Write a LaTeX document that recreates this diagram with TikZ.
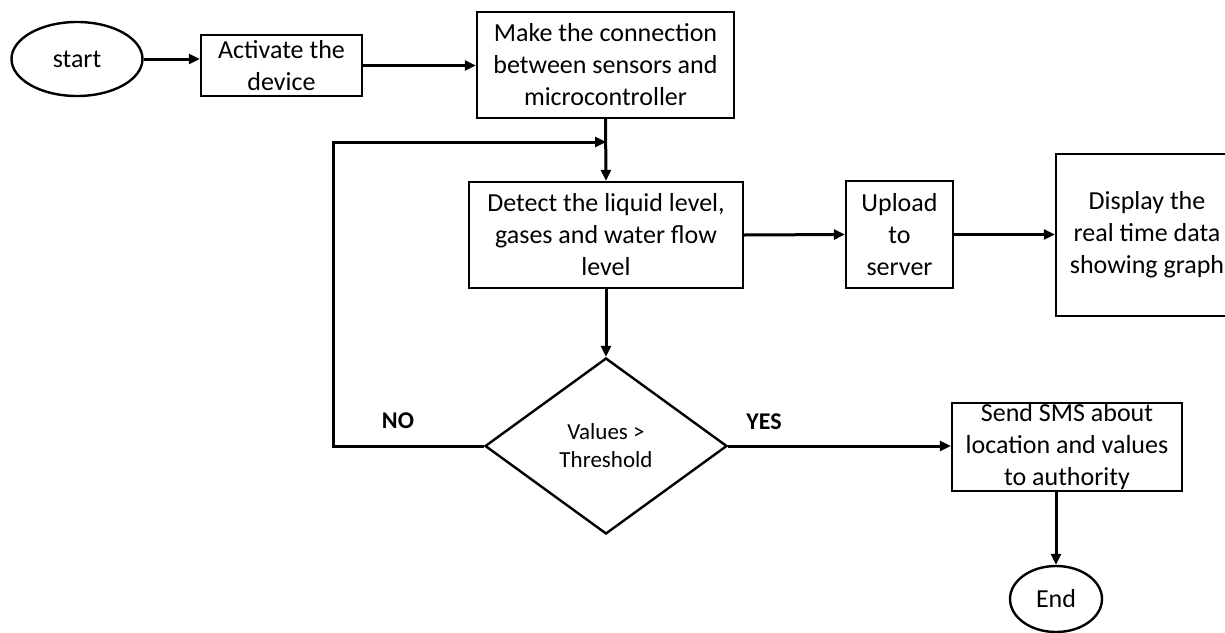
\documentclass[tikz,border=0pt]{standalone}
\usepackage{fontspec}
\setmainfont{Carlito}
\usetikzlibrary{shapes.geometric,arrows.meta}
\begin{document}
\begin{tikzpicture}[x=1pt,y=-1pt,
  line width=3pt,
  box/.style={draw,line width=2.4pt,rectangle,inner sep=0pt,align=center,
    font=\fontsize{26}{32}\selectfont},
  term/.style={draw,line width=2.4pt,ellipse,inner sep=0pt,
    font=\fontsize{26}{32}\selectfont},
  decision/.style={draw,line width=2.4pt,diamond,inner sep=0pt,align=center,
    font=\fontsize{23}{28}\selectfont},
  lbl/.style={font=\fontsize{24}{28}\selectfont\bfseries},
  arr/.style={-{Triangle[length=11pt,width=10pt]}}]
\clip (0,0) rectangle (1225,632);
\fill[white] (0,0) rectangle (1225,632);
\node[term,minimum width=131pt,minimum height=74pt] (start) at (77,59) {start};
\node[box,minimum width=161pt,minimum height=61pt] (act) at (281.5,65.5) {Activate the\\device};
\node[box,minimum width=257pt,minimum height=106pt] (make) at (605.5,65) {Make the connection\\between sensors and\\microcontroller};
\node[box,minimum width=274pt,minimum height=106pt] (detect) at (606,235) {Detect the liquid level,\\gases and water flow\\level};
\node[box,minimum width=107pt,minimum height=107pt] (upload) at (899.5,234.5) {Upload\\to\\server};
\node[box,minimum width=182pt,minimum height=162pt] (disp) at (1147,235) {Display the\\real time data\\showing graph};
\node[decision,minimum width=242pt,minimum height=176pt] (dec) at (606,446) {Values >\\Threshold};
\node[box,minimum width=230pt,minimum height=88pt] (sms) at (1067,447) {Send SMS about\\location and values\\to authority};
\node[term,minimum width=92pt,minimum height=66pt] (end) at (1056,599) {End};
\node[lbl] (no) at (398,421) {NO};
\node[lbl] (yes) at (764,422) {YES};
\coordinate (j) at (606,142);
\coordinate (c1) at (333,446);
\coordinate (c2) at (333,142);
\draw[arr] (start.east) -- (act.west |- start.east);
\draw[arr] (act.east) -- (make.west |- act.east);
\draw[arr] (make.south) -- (detect.north);
\draw[arr] (dec.west) -- (c1) -- (c2) -- (j);
\draw[arr] (detect.south) -- (dec.north);
\draw[arr] (detect.east) -- (upload.west);
\draw[arr] (upload.east) -- (disp.west |- upload.east);
\draw[arr] (dec.east) -- (dec.east -| sms.west);
\draw[arr] (sms.south -| end.north) -- (end.north);
\end{tikzpicture}
\end{document}
